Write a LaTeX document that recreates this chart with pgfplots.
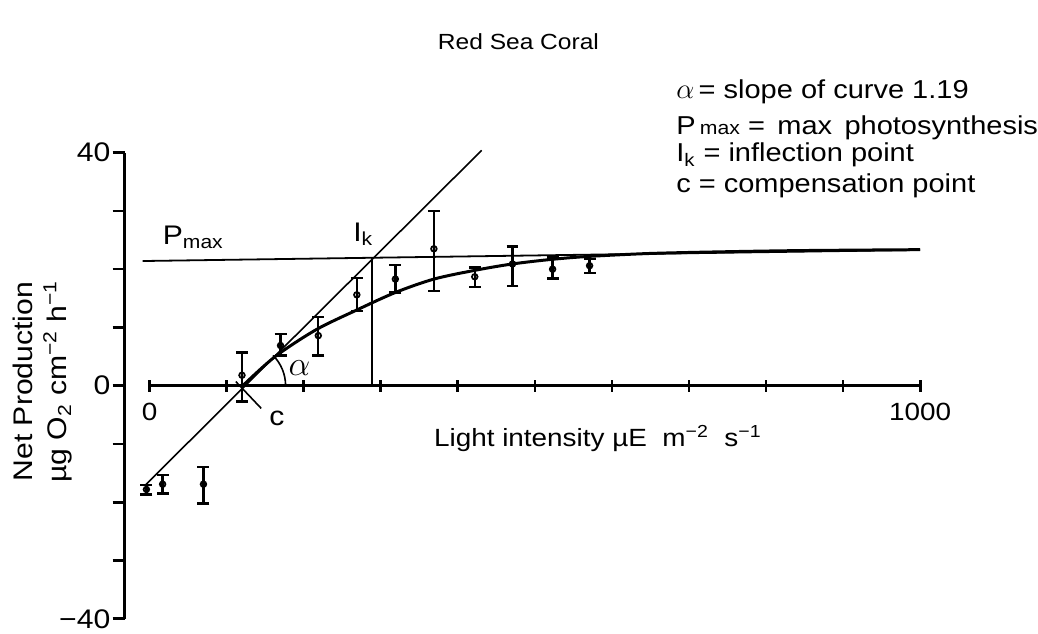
\documentclass[border=0pt]{standalone}
\usepackage{fontspec}
\setmainfont[FakeStretch=1.12]{Liberation Sans}
\usepackage{pgfplots}
\pgfplotsset{compat=1.18}
\usepackage{pgfplotstable}

% measured points with asymmetric error bars
\pgfplotstableread{
x y ep em
-4 -17.8 0.8 0.9
17 -16.9 1.6 1.6
70 -16.9 3.0 3.3
120 1.8 3.9 4.5
170 6.9 2.0 1.7
219 8.6 3.2 3.4
269 15.6 2.9 2.8
319 18.3 2.4 2.3
369 23.5 6.5 7.2
422 18.7 1.6 1.8
471 20.9 3.0 3.8
523 20.0 2.0 1.6
571 20.6 1.2 1.3
}\datatable

% fitted P-I curve
\pgfplotstableread{
x y
121 0
163 5.0
216 9.6
269 13.0
319 16.0
369 18.3
422 19.8
471 20.9
523 21.7
571 22.2
650 22.7
750 23.0
850 23.2
1000 23.35
}\curvetable

\begin{document}
\begin{tikzpicture}
\begin{axis}[
  scale only axis,
  width=399.4pt, height=234pt,
  xmin=-32.3, xmax=1000, ymin=-40, ymax=40,
  axis x line=middle, axis y line=left,
  axis line style={-},
  x axis line style={draw=none},
  y axis line style={line width=1.3pt},
  xtick={0,100,...,1000},
  xticklabels={0,,,,,,,,,,1000},
  ytick={-40,-30,...,40},
  yticklabels={−40,,,,0,,,,40},
  xtick align=center, ytick align=outside,
  major tick length=6pt,
  every tick/.style={black, line width=1.3pt},
  /pgf/number format/assume math mode=true,
  xticklabel style={font=\fontsize{12.5}{14}\selectfont, yshift=-2pt},
  yticklabel style={font=\fontsize{13.5}{15}\selectfont, inner sep=1pt},
  clip=false,
]
% bounding box matching the reference canvas
\path (axis cs:-194,66.2) rectangle (axis cs:1148.8,-42.6);

% x axis line from 0 to 1000
\addplot[line width=1.3pt] coordinates {(0,0) (1000,0)};

% tangent (initial slope) line
\addplot[line width=0.8pt] coordinates {(-5,-17.0) (431,40.4)};
% Pmax line
\addplot[line width=0.9pt] coordinates {(-9,21.4) (1000,23.3)};
% Ik vertical
\addplot[line width=0.8pt] coordinates {(289,0) (289,21.9)};
% compensation point marker
\addplot[line width=0.8pt] coordinates {(112,0.7) (145,-3.9)};

% fitted curve
\addplot[line width=1.5pt, smooth, tension=0.5] table[x=x,y=y] {\curvetable};

% data with error bars
\addplot[only marks, mark=o, mark size=1.4pt, mark options={line width=0.9pt, fill=white},
  error bars/.cd, y dir=both, y explicit,
  error bar style={line width=1.2pt},
  error mark options={rotate=90, mark size=3pt, line width=1.2pt}]
  table[x=x, y=y, y error plus=ep, y error minus=em] {\datatable};

% alpha arc
\draw[line width=0.8pt] (axis cs:121,0) ++(0:21.5pt) arc[start angle=0, end angle=45, radius=21.5pt];

% labels in the plot
\node[anchor=base west, inner sep=0, font=\fontsize{13.5}{15}\selectfont] at (axis cs:16.8,24.3) {P\textsubscript{max}};
\node[anchor=base west, inner sep=0, font=\fontsize{13.5}{15}\selectfont] at (axis cs:264,24.8) {I\textsubscript{k}};
\node[anchor=base west, inner sep=0, font=\fontsize{17}{19}\selectfont] at (axis cs:180,1.8) {$\alpha$};
\node[anchor=base west, inner sep=0, font=\fontsize{13.5}{15}\selectfont] at (axis cs:155,-6.8) {c};

% title
\node[font=\fontsize{11}{13}\selectfont] at (axis cs:478.7,59) {Red Sea Coral};

% explanation block
\node[anchor=base west, inner sep=0, font=\fontsize{13}{15}\selectfont] at (axis cs:683,49.3) {{\fontsize{15}{16}\selectfont$\alpha$}\,= slope of curve 1.19};
\node[anchor=base west, inner sep=0, font=\fontsize{13}{15}\selectfont] at (axis cs:683,43.1) {P\,{\fontsize{9.5}{10}\selectfont max} = \,max \,photosynthesis};
\node[anchor=base west, inner sep=0, font=\fontsize{13}{15}\selectfont] at (axis cs:683,38.4) {I\textsubscript{k} = inflection point};
\node[anchor=base west, inner sep=0, font=\fontsize{13}{15}\selectfont] at (axis cs:683,33.2) {c = compensation point};

% axis labels
\node[anchor=base west, inner sep=0, font=\fontsize{12.5}{14}\selectfont] at (axis cs:368.7,-10.4) {Light intensity µE\ \ m\textsuperscript{−2}\ \ s\textsuperscript{−1}};
\node[anchor=base, rotate=90, inner sep=0, font=\fontsize{13.5}{15}\selectfont] at (axis cs:-151.4,0.7) {Net Production};
\node[anchor=base, rotate=90, inner sep=0, font=\fontsize{13.5}{15}\selectfont] at (axis cs:-107.4,0.7) {µg O\textsubscript{2} cm\textsuperscript{−2} h\textsuperscript{−1}};
\end{axis}
\end{tikzpicture}
\end{document}
